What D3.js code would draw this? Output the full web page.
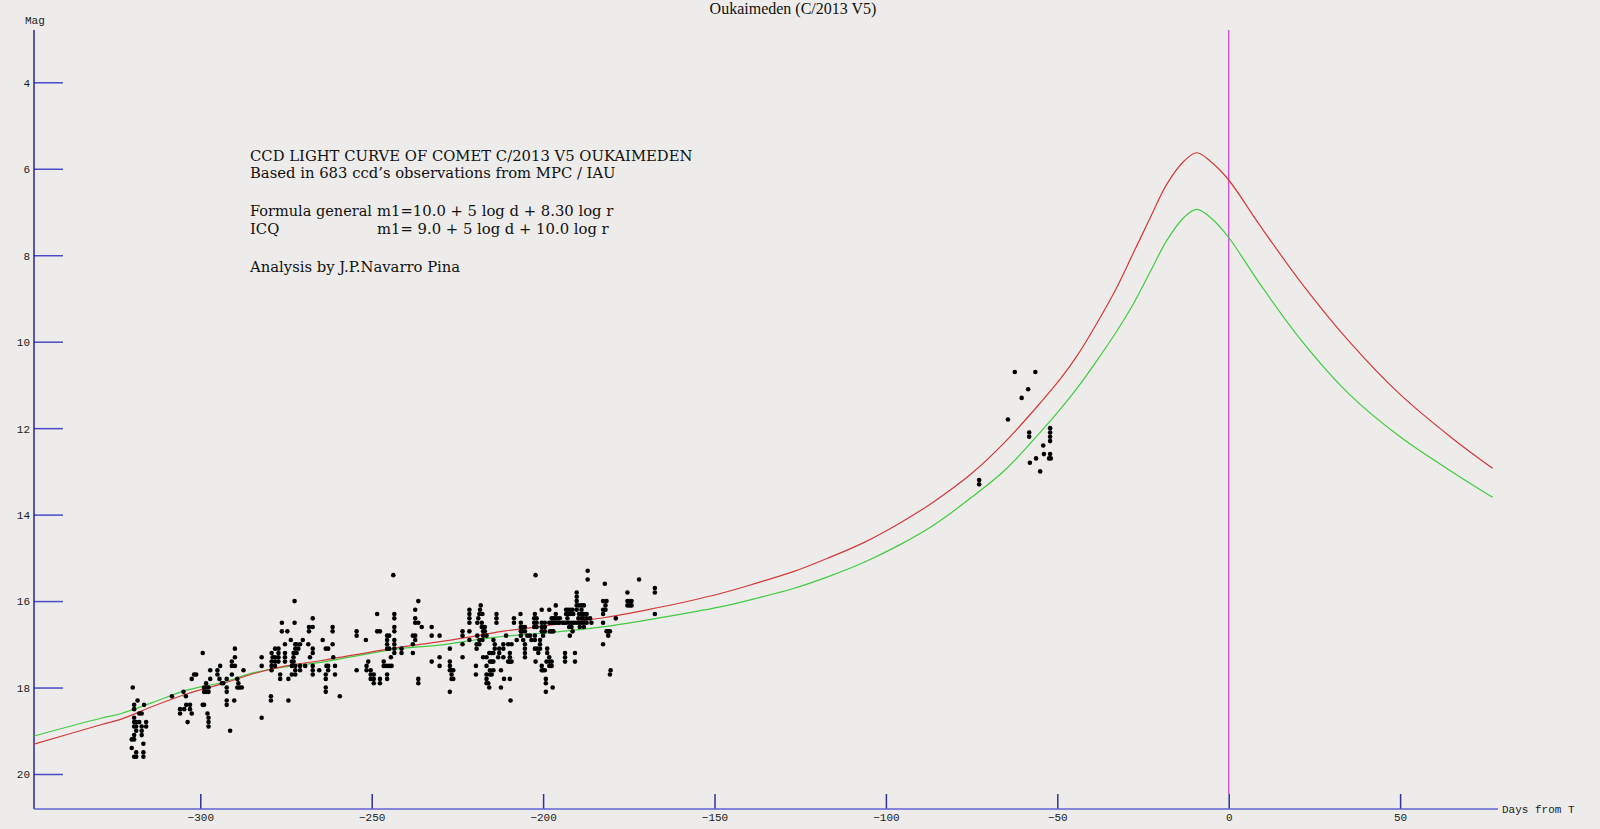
<!DOCTYPE html>
<html>
<head>
<meta charset="utf-8">
<script src="https://cdn.jsdelivr.net/npm/d3@7"></script>
<style>
  body { margin: 0; background: #edecea; }
  svg { display: block; }
  .tickLabel { font-family: "Liberation Mono", monospace; font-size: 11px; fill: #222; }
  .note { font-family: "DejaVu Serif", serif; font-size: 14.8px; fill: #111; }
</style>
</head>
<body>
<div class="chart"></div>
<script>
// light curve of comet C/2013 V5 Oukaimeden

// ticks
var xTicks = [-300, -250, -200, -150, -100, -50, 0, 50];
var yTicks = [4, 6, 8, 10, 12, 14, 16, 18, 20];

// model curves (days from perihelion, magnitude)
var curveDays = [-348.5, -329, -323, -314, -304, -294, -284, -275, -265, -242, -230, -220, -211, -201, -191, -182, -169,
  -158, -148, -138, -127, -117, -106, -96, -86, -75, -65, -55, -49, -44, -39, -33, -28, -23, -18, -13, -9.3, -5, 0,
  9, 21, 35, 50, 65, 77];
var generalMag = [19.31, 18.86, 18.73, 18.44, 18.15, 17.92, 17.67, 17.50, 17.38, 17.07, 16.94, 16.81, 16.69, 16.59, 16.48, 16.38, 16.19,
  16.01, 15.82, 15.59, 15.32, 15.01, 14.63, 14.20, 13.70, 13.05, 12.30, 11.42, 10.85, 10.30, 9.65, 8.80, 7.98, 7.15, 6.35, 5.82, 5.63, 5.85, 6.26,
  7.30, 8.62, 9.98, 11.22, 12.22, 12.93];
var icqMag = [19.12, 18.71, 18.60, 18.35, 18.06, 17.89, 17.65, 17.52, 17.42, 17.10, 17.02, 16.90, 16.81, 16.75, 16.67, 16.59, 16.43,
  16.28, 16.13, 15.94, 15.71, 15.44, 15.09, 14.70, 14.24, 13.60, 12.95, 12.10, 11.55, 11.05, 10.50, 9.80, 9.15, 8.40, 7.65, 7.12, 6.94, 7.15, 7.59,
  8.65, 9.95, 11.20, 12.20, 13.00, 13.60];

// ccd observations [day, mag]
var obsEarly = [
  [-319.7,18.0],[-318.3,18.3],[-319.3,18.4],[-316.4,18.4],[-319.3,18.5],[-317.8,18.6],[-317.1,18.6],[-319.3,18.7],[-319.3,18.8],[-318.7,18.8],
  [-317.8,18.8],[-315.8,18.8],[-319.3,18.9],[-318.7,18.9],[-317.1,18.9],[-315.8,18.9],[-318.7,19.0],[-317.1,19.0],[-319.3,19.1],[-317.1,19.1],
  [-320.0,19.2],[-319.3,19.2],[-316.6,19.3],[-320.0,19.4],[-318.7,19.5],[-316.6,19.5],[-319.3,19.6],[-318.7,19.6],[-316.6,19.6],
  [-308.3,18.2],[-304.9,18.1],[-304.2,18.2],[-304.1,18.4],[-303.0,18.4],[-305.9,18.5],[-304.7,18.5],[-303.0,18.5],[-305.9,18.6],[-302.5,18.6],[-303.7,18.8],
  [-302.5,17.8],[-301.8,17.7],[-301.2,17.7],
  [-299.3,17.2],[-298.3,17.9],[-298.9,18.0],[-298.3,18.0],[-297.6,18.0],[-298.9,18.1],[-298.3,18.1],[-297.6,18.1],[-297.1,17.6],[-297.1,17.8],
  [-299.3,18.4],[-298.9,18.4],[-297.9,18.6],[-297.6,18.7],[-297.6,18.8],[-297.6,18.9],
  [-295.0,17.6],[-294.2,17.5],[-295.0,17.7],[-294.4,17.8],[-293.7,17.9],[-293.3,17.9],[-292.3,17.8],[-292.3,18.0],[-292.3,18.1],[-292.3,18.3],
  [-292.3,18.4],[-291.3,19.0],[-290.8,17.4],[-289.9,17.3],[-289.9,17.1],[-290.8,17.5],[-289.9,17.5],[-290.8,17.7],[-290.1,18.3],[-289.2,17.8],
  [-288.9,17.9],[-289.2,18.0],[-288.6,18.0],[-287.9,18.0],[-287.4,17.6]
];
var obsSecond = [
  [-282.1,17.3],[-282.1,17.5],[-282.1,18.7],[-279.4,18.2],[-279.4,18.3],[-279.2,17.2],[-278.9,17.3],[-279.2,17.4],[-279.2,17.5],[-279.2,17.6],
  [-278.2,17.1],[-278.2,17.3],[-278.2,17.4],[-278.2,17.5],[-277.2,17.1],[-277.2,17.2],[-277.2,17.3],[-277.2,17.4],[-276.7,17.7],[-276.7,17.8],
  [-276.2,16.5],[-276.2,16.7],[-275.3,17.0],[-275.3,17.2],[-275.3,17.3],[-275.3,17.4],[-274.6,16.7],[-274.3,17.8],[-274.3,18.3],[-273.6,16.9],
  [-273.3,17.4],[-273.3,17.5],[-273.3,17.7],[-272.8,17.2],[-272.8,17.3],[-272.8,17.4],[-272.5,16.0],[-272.5,16.5],[-272.3,17.0],[-272.3,17.1],
  [-272.3,17.5],[-272.3,17.6],[-272.3,17.7],[-271.9,17.0],[-271.9,17.2],[-271.4,17.1],[-270.9,17.0],[-270.9,17.5],[-270.9,17.6],[-270.1,16.9],
  [-269.4,17.5],[-268.5,17.0],[-268.3,16.7],[-268.3,16.6],[-268.0,17.3],[-267.2,16.4],[-267.2,16.6],[-267.2,17.1],[-267.2,17.2],[-267.2,17.5],
  [-267.2,17.6],[-267.2,17.7],[-265.3,17.6],
  [-264.3,16.9],[-263.4,17.1],[-262.7,17.1],[-261.4,16.6],[-261.4,16.7],[-261.4,17.0],[-261.2,17.3],[-263.2,17.5],[-262.7,17.5],[-262.7,17.6],
  [-263.4,17.7],[-263.4,17.8],[-263.4,18.0],[-263.4,18.1],[-260.7,17.5],[-260.7,17.7],[-259.3,18.2],
  [-254.4,16.7],[-254.4,16.8],[-254.4,17.6],[-251.7,16.9],[-251.5,17.5],[-251.5,17.6],[-251.0,17.4],[-250.3,17.6],[-250.3,17.7],[-250.3,17.8],
  [-249.4,17.7],[-249.4,17.8],[-249.4,17.9],[-247.6,17.8],[-247.6,17.9],[-248.4,16.3],[-248.4,16.7],[-247.6,16.7],[-246.5,17.4],[-246.5,17.5],
  [-245.7,17.5],[-244.9,17.5],[-244.2,17.5],[-245.5,16.8],[-245.5,16.9],[-245.5,17.0],[-245.5,17.1],[-244.9,16.8],[-244.9,17.1],[-245.5,17.7],
  [-245.5,17.8],[-244.4,17.3],[-243.7,15.4],[-243.4,16.3],[-243.4,16.4],[-243.4,16.6],[-243.4,16.7],[-243.4,16.9],[-243.4,17.0],[-243.4,17.1],
  [-243.4,17.2],[-241.3,17.1],[-241.3,17.2],
  [-238.0,16.8],[-237.3,16.8],[-237.3,16.9],[-238.0,17.0],[-238.0,17.2],[-237.3,16.2],[-237.3,16.4],[-237.3,16.5],[-236.4,16.5],[-236.4,16.0],
  [-235.4,16.6],[-236.4,17.8],[-236.4,17.9],[-232.5,16.6],[-232.5,16.8],[-232.5,17.4],[-230.2,16.8],[-230.2,17.3],[-230.2,17.5]
];
var obsThird = [
  [-227.2,17.1],[-227.2,17.4],[-227.2,17.5],[-227.2,17.6],[-226.7,17.6],[-226.2,17.6],[-226.7,17.7],[-226.2,17.8],[-226.7,17.8],[-227.2,18.1],
  [-223.5,16.7],[-223.5,16.8],[-223.5,17.0],[-223.5,17.3],
  [-221.5,16.2],[-221.5,16.3],[-221.5,16.4],[-221.5,16.5],[-221.5,16.7],[-221.5,16.9],
  [-219.6,17.5],[-219.6,17.7],[-219.4,17.0],[-219.4,17.1],[-219.2,16.8],[-219.2,16.5],[-218.9,16.4],[-218.4,16.2],[-218.2,16.1],[-218.6,16.3],
  [-217.7,16.3],[-218.6,16.9],[-217.7,16.9],[-218.6,17.0],
  [-217.9,16.5],[-217.9,16.6],[-217.5,16.6],[-217.0,16.6],[-217.5,16.7],[-217.5,16.8],[-216.5,16.8],[-217.0,16.7],
  [-217.5,17.3],[-216.5,17.3],[-215.7,17.2],[-215.0,17.2],[-214.5,17.2],
  [-216.5,17.5],[-215.5,17.4],[-215.0,17.4],[-214.5,17.4],[-214.5,17.6],[-215.5,17.6],[-216.5,17.7],[-215.5,17.7],[-215.0,17.7],
  [-216.5,17.8],[-216.5,17.9],[-216.0,17.9],[-215.7,18.0],
  [-214.1,17.0],[-214.1,17.1],[-214.5,16.9],[-213.6,16.3],[-213.6,16.4],[-213.6,16.5],
  [-213.1,17.3],[-212.8,17.1],[-212.8,17.2],[-212.3,17.6],[-212.3,18.0],
  [-211.6,17.0],[-211.6,17.1],[-211.6,17.3],[-211.4,17.8],[-210.8,16.8],
  [-210.2,17.0],[-210.2,17.4],[-209.7,17.4],[-209.2,17.4],[-209.7,17.2],[-209.7,17.3],[-209.2,17.0],[-209.7,17.8],[-209.5,18.3],
  [-208.5,16.4],[-208.5,16.5],[-207.7,16.9],[-206.6,16.3],
  [-206.5,16.5],[-206.5,16.6],[-206.5,16.7],[-206.5,16.8],[-206.0,16.7],[-205.3,16.7],[-206.0,16.6],[-205.3,16.6],
  [-205.8,16.9],[-205.3,17.0],[-205.3,17.1],[-205.3,17.2],[-205.3,17.3],[-204.6,16.8],[-203.8,16.8],[-203.4,16.9]
];
var obsFourth = [
  [-202.6,16.4],[-201.9,16.4],[-202.6,16.5],[-201.9,16.5],[-202.6,16.6],[-201.9,16.6],[-202.4,16.3],[-202.2,15.4],
  [-202.4,16.8],[-202.4,16.9],[-202.4,17.1],[-201.7,17.1],[-200.9,17.1],[-202.2,17.4],[-201.4,17.2],[-200.9,17.0],[-200.9,16.9],
  [-200.4,16.2],[-200.4,16.5],[-200.4,16.6],[-200.4,16.7],[-200.4,17.5],[-200.4,17.6],[-200.0,17.6],[-199.5,17.6],
  [-199.5,16.5],[-199.5,16.6],[-199.5,16.7],[-200.0,16.8],[-199.2,17.8],[-199.2,17.9],[-199.2,18.1],
  [-198.8,17.1],[-198.8,17.2],[-198.2,17.3],[-198.2,17.4],[-197.5,17.4],[-199.0,17.4],[-198.2,17.5],[-197.5,17.5],
  [-198.2,16.2],[-198.2,16.5],[-197.5,16.5],[-197.0,16.5],[-196.6,16.5],[-196.1,16.5],[-195.6,16.5],[-197.5,16.4],[-197.0,16.4],[-196.6,16.4],
  [-195.9,16.4],[-196.3,16.3],[-198.0,16.7],[-197.5,16.7],[-197.0,16.7],[-197.2,18.0],[-196.3,16.1],[-195.3,16.5],[-195.1,16.4],
  [-194.3,16.5],[-193.9,16.5],[-193.3,16.5],[-193.6,17.2],[-193.6,17.3],[-193.6,17.4],
  [-193.3,16.2],[-192.7,16.2],[-192.0,16.2],[-191.4,16.2],[-192.7,16.3],[-192.0,16.3],[-191.2,16.3],[-193.3,16.3],
  [-192.9,16.4],[-192.4,16.5],[-191.7,16.5],[-191.0,16.5],[-192.4,16.6],[-191.7,16.6],[-191.4,16.7],[-192.2,16.8],
  [-190.7,17.2],[-190.7,17.4],
  [-190.2,15.8],[-190.2,15.9],[-190.2,16.0],[-190.2,16.1],[-189.5,16.1],[-188.8,16.1],[-188.1,16.1],[-188.8,16.2],
  [-190.2,16.2],[-189.5,16.3],[-188.8,16.3],[-188.1,16.3],[-187.3,16.3],[-189.7,16.4],[-188.8,16.4],[-188.1,16.4],
  [-190.2,16.5],[-189.5,16.5],[-188.8,16.5],[-188.1,16.5],[-187.3,16.5],[-189.3,16.6],[-188.1,16.6],
  [-187.3,16.4],[-186.3,16.4],[-185.9,16.5],[-187.0,15.3],[-187.0,15.5],
  [-182.5,16.5],[-182.5,16.3],[-182.5,16.2],[-181.8,16.2],[-181.8,16.1],[-182.5,16.0],[-181.5,16.0],[-182.0,15.6],[-182.5,17.0],
  [-181.5,16.7],[-181.0,16.7],[-180.5,16.7],[-181.0,16.8],[-180.3,17.6],[-180.5,17.7],[-178.8,16.4],
  [-175.4,15.8],[-175.4,16.0],[-174.7,16.0],[-174.2,16.0],[-174.7,16.1],[-174.2,16.1],[-175.4,16.1],
  [-172.0,15.5],[-167.4,15.7],[-167.4,15.8],[-167.4,16.3]
];
var obsLate = [
  [-62.4,10.7],[-56.4,10.7],[-58.5,11.1],[-60.4,11.3],[-64.4,11.8],[-58.2,12.1],[-58.2,12.2],[-52.1,12.0],[-52.1,12.1],[-52.1,12.2],
  [-52.1,12.3],[-54.1,12.4],[-53.9,12.6],[-52.1,12.6],[-51.9,12.7],[-52.4,12.7],[-56.2,12.7],[-58.0,12.8],[-55.0,13.0],
  [-72.8,13.2],[-72.8,13.3]
];

var noteLines = [
  "CCD LIGHT CURVE OF COMET C/2013 V5 OUKAIMEDEN",
  "Based in 683 ccd\u2019s observations from MPC / IAU"
];

var svgWidth = 1600;
var svgHeight = 829;

var svg = d3.select(".chart")
  .append("svg")
  .attr("width", svgWidth)
  .attr("height", svgHeight);

// scales: tick -300 at 200.3px, tick 0 at 1228.7px; mag 4 at 82.3px, mag 20 at 774px
var xScale = d3.scaleLinear().domain([-300, 50]).range([200.3, 1400.1]);
var yScale = d3.scaleLinear().domain([4, 20]).range([82.3, 774]);

var axisLeftX = 34;
var axisBottomY = 809;

// title at the top edge
svg.append("text")
  .attr("x", 793)
  .attr("y", 14)
  .attr("text-anchor", "middle")
  .style("font-family", "'Liberation Serif', serif")
  .style("font-size", "16px")
  .style("fill", "#111")
  .text("Oukaimeden (C/2013 V5)");

// y axis
var leftAxis = d3.axisLeft(yScale)
  .tickValues(yTicks)
  .tickSizeInner(-29)
  .tickSizeOuter(0)
  .tickPadding(4)
  .tickFormat(d3.format("d"));

var yAxisGroup = svg.append("g")
  .attr("transform", `translate(${axisLeftX}, 0)`)
  .call(leftAxis);
yAxisGroup.select(".domain").remove();
yAxisGroup.selectAll(".tick line").attr("stroke", "#4a4ac4").attr("stroke-width", 1.5);
yAxisGroup.selectAll(".tick text").attr("class", "tickLabel").attr("dy", "0.35em");

svg.append("line")
  .attr("x1", axisLeftX).attr("x2", axisLeftX)
  .attr("y1", 30).attr("y2", axisBottomY)
  .attr("stroke", "#26269a")
  .attr("stroke-width", 1.5);

// x axis
var bottomAxis = d3.axisBottom(xScale)
  .tickValues(xTicks)
  .tickSizeInner(-15)
  .tickSizeOuter(0)
  .tickPadding(4);

var xAxisGroup = svg.append("g")
  .attr("transform", `translate(0, ${axisBottomY})`)
  .call(bottomAxis);
xAxisGroup.select(".domain").remove();
xAxisGroup.selectAll(".tick line").attr("stroke", "#30309e").attr("stroke-width", 1.5);
xAxisGroup.selectAll(".tick text").attr("class", "tickLabel");

svg.append("line")
  .attr("x1", axisLeftX).attr("x2", 1498)
  .attr("y1", axisBottomY).attr("y2", axisBottomY)
  .attr("stroke", "#6262d6")
  .attr("stroke-width", 1.5);

// axis titles
svg.append("text")
  .attr("class", "tickLabel")
  .attr("x", 25)
  .attr("y", 24)
  .text("Mag");

svg.append("text")
  .attr("class", "tickLabel")
  .attr("x", 1502)
  .attr("y", 813)
  .text("Days from T");

// perihelion marker
svg.append("line")
  .attr("x1", xScale(0)).attr("x2", xScale(0))
  .attr("y1", 30).attr("y2", axisBottomY - 15)
  .attr("stroke", "#d458d4")
  .attr("stroke-width", 1.5);

// notes
var notes = svg.append("g");
notes.append("text").attr("class", "note").attr("x", 250).attr("y", 160.5).text(noteLines[0]);
notes.append("text").attr("class", "note").attr("x", 250).attr("y", 177.5).text(noteLines[1]);
notes.append("text").attr("class", "note").attr("x", 250).attr("y", 216)
  .attr("textLength", 122).attr("lengthAdjust", "spacingAndGlyphs")
  .text("Formula general");
notes.append("text").attr("class", "note").attr("x", 377).attr("y", 216).text("m1=10.0 + 5 log d + 8.30 log r");
notes.append("text").attr("class", "note").attr("x", 250).attr("y", 234).text("ICQ");
notes.append("text").attr("class", "note").attr("x", 377).attr("y", 234).text("m1= 9.0 + 5 log d + 10.0 log r");
notes.append("text").attr("class", "note").attr("x", 250).attr("y", 271.5).text("Analysis by J.P.Navarro Pina");

// model curves
var curveLine = d3.line()
  .x(d => xScale(d[0]))
  .y(d => yScale(d[1]))
  .curve(d3.curveCatmullRom.alpha(0.5));

svg.append("path")
  .datum(curveDays.map((d, i) => [d, icqMag[i]]))
  .attr("fill", "none")
  .attr("stroke", "#3fcc3f")
  .attr("stroke-width", 1.2)
  .attr("d", curveLine);

svg.append("path")
  .datum(curveDays.map((d, i) => [d, generalMag[i]]))
  .attr("fill", "none")
  .attr("stroke", "#d23a3a")
  .attr("stroke-width", 1.2)
  .attr("d", curveLine);

// observations
var observations = obsEarly.concat(obsSecond, obsThird, obsFourth, obsLate);

svg.append("g")
  .selectAll("circle")
  .data(observations)
  .enter()
  .append("circle")
  .attr("cx", d => xScale(d[0]))
  .attr("cy", d => yScale(d[1]))
  .attr("r", 2.3)
  .attr("fill", "#000");
</script>
</body>
</html>
